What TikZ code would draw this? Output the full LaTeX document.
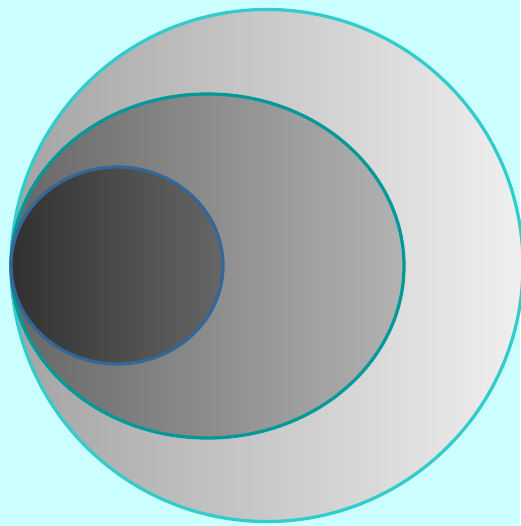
\documentclass[tikz,border=0pt]{standalone}
\usepackage{xcolor}
\definecolor{bgcyan}{HTML}{CCFFFF}
\definecolor{ringturq}{HTML}{33CCCC}
\definecolor{ringteal}{HTML}{009999}
\definecolor{ringblue}{HTML}{336699}
\begin{document}
\begin{tikzpicture}[x=0.02cm, y=-0.02cm,
      ring/.style={line width=0.065cm},
      outerset/.style={ring, draw=ringturq, left color=black!36, right color=black!6},
      midset/.style={ring, draw=ringteal, left color=black!60, right color=black!30},
      innerset/.style={ring, draw=ringblue, left color=black!81, right color=black!60}
    ]
    \fill[bgcyan] (0,0) rectangle (520,526);
    \useasboundingbox (0,0) rectangle (520,526);

    \path[outerset] (267,265.5) circle [x radius=256, y radius=256];
    \path[midset] (207.5,266) ellipse [x radius=196.5, y radius=172];
    \path[innerset] (117,265.5) ellipse [x radius=106, y radius=98.5];
  \end{tikzpicture}
\end{document}
